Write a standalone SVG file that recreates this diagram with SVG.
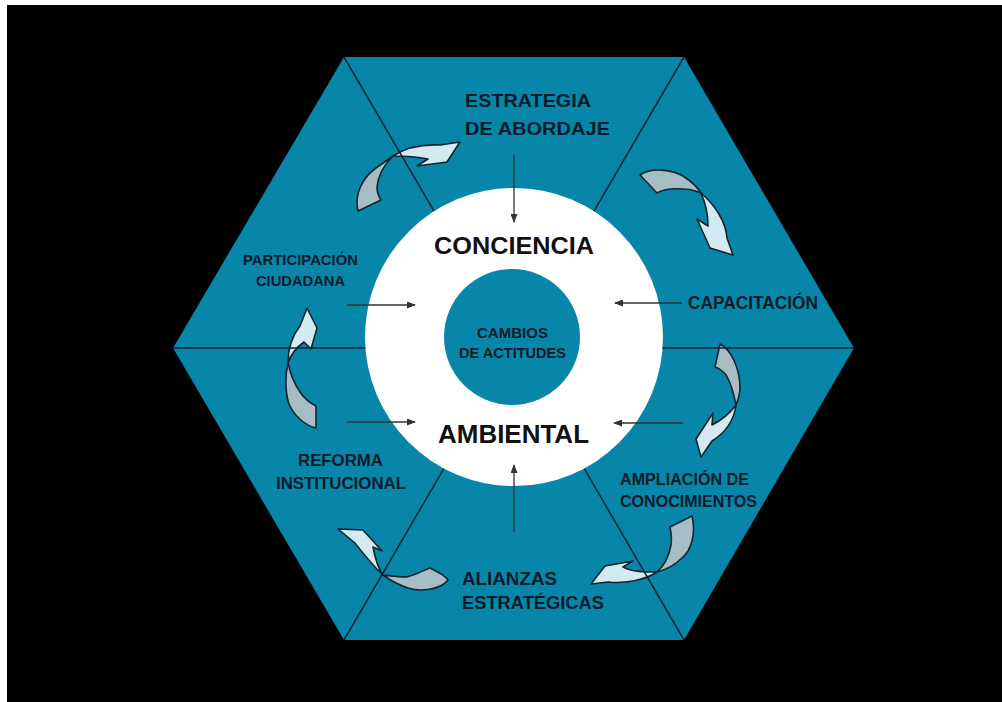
<svg xmlns="http://www.w3.org/2000/svg" width="1002" height="702" viewBox="0 0 1002 702">
<defs>
<style>
.lbl{font-family:"Liberation Sans",Arial,sans-serif;font-weight:bold;fill:#0a1b2a;}
.big{font-family:"Liberation Sans",Arial,sans-serif;font-weight:bold;fill:#111111;}
.div{stroke:#0b2533;stroke-width:1.5;fill:none;}
.tail{fill:#a6bdc5;stroke:#13232b;stroke-width:1.6;stroke-linejoin:round;}
.head{fill:#d3eaf0;stroke:#13232b;stroke-width:1.6;stroke-linejoin:round;}
.con{stroke:#333333;stroke-width:1.3;fill:none;marker-end:url(#ah);}
</style>
<marker id="ah" markerWidth="9" markerHeight="7" refX="8" refY="3.5" orient="auto" markerUnits="userSpaceOnUse">
<path d="M0,0 L9,3.5 L0,7 Z" fill="#333333"/>
</marker>
</defs>
<rect x="0" y="0" width="1002" height="702" fill="#ffffff"/>
<rect x="7" y="5" width="995" height="697" fill="#000000"/>

<g id="hexagon">
<polygon points="173,348 344,57 684,57 854,348 684,640 344,640" fill="#0886a9"/>
</g>

<g id="cycle-arrows">
<g id="arrow-top-left">
<path class="tail" d="M358,211 C354,195 362,178 376,168 L393,156 C384,165 378,176 377,187 C377,193 379,197 381,200 Z"/>
<path class="head" d="M393,156 C405,148 420,144 440,145 L460,142 L447,162 L417,166 L428,159 C418,157 405,156 393,156 Z"/>
</g>
<g id="arrow-top-right">
<path class="tail" d="M640,175 C650,168 672,168 686,178 C693,183 698,188 701,193 C696,191 690,189 684,189 C672,188 662,190 657,193 Z"/>
<path class="head" d="M701,193 C715,205 726,222 727,238 L733,255 L710,248 L697,219 L708,226 C708,215 706,204 701,193 Z"/>
</g>
<g id="arrow-right">
<path class="tail" d="M720,344 C732,350 740,370 740,388 C740,395 738,400 736,405 C734,395 731,383 726,375 C722,370 718,368 715,367 Z"/>
<path class="head" d="M736,405 C734,420 725,433 712,441 L701,457 L696,439 L713,413 L712,425 C722,420 730,413 736,405 Z"/>
</g>
<g id="arrow-bottom-right">
<path class="tail" d="M692,516 C696,532 692,550 682,558 C675,565 665,570 657,572 C664,566 669,556 671,545 C672,538 671,532 670,527 Z"/>
<path class="head" d="M657,572 C645,580 625,584 608,582 L591,584 L605,566 L633,561 L623,567 C632,572 645,572 657,572 Z"/>
</g>
<g id="arrow-bottom-left">
<path class="tail" d="M430,568 C438,572 446,576 448,580 C440,590 420,592 408,588 C398,585 390,580 383,575 C392,576 400,577 407,577 C415,575 422,571 430,568 Z"/>
<path class="head" d="M383,575 C372,565 362,552 355,543 L338,529 L363,530 L382,551 L373,547 C375,558 378,568 383,575 Z"/>
</g>
<g id="arrow-left">
<path class="tail" d="M316,406 L316,428 C306,426 294,416 289,404 C285,392 285,375 288,363 C290,372 293,382 300,392 C304,398 310,403 316,406 Z"/>
<path class="head" d="M288,363 C288,348 292,336 300,326 L307,308 L317,328 L311,349 L304,342 C297,347 291,354 288,363 Z"/>
</g>
</g>

<g id="dividers">
<line class="div" x1="344" y1="57" x2="514" y2="348"/>
<line class="div" x1="684" y1="57" x2="514" y2="348"/>
<line class="div" x1="173" y1="348" x2="514" y2="348"/>
<line class="div" x1="854" y1="348" x2="514" y2="348"/>
<line class="div" x1="344" y1="640" x2="514" y2="348"/>
<line class="div" x1="684" y1="640" x2="514" y2="348"/>
</g>

<g id="conciencia-ambiental">
<circle cx="514" cy="337" r="149" fill="#ffffff"/>
<text class="big" x="434" y="254" font-size="24.5" textLength="160" lengthAdjust="spacingAndGlyphs">CONCIENCIA</text>
<text class="big" x="438" y="443" font-size="25.5" textLength="151" lengthAdjust="spacingAndGlyphs">AMBIENTAL</text>
</g>

<g id="cambios-actitudes">
<circle cx="512" cy="337" r="68" fill="#0886a9"/>
<text class="lbl" x="477" y="338" font-size="15" textLength="71" lengthAdjust="spacingAndGlyphs">CAMBIOS</text>
<text class="lbl" x="459" y="358" font-size="15" textLength="107" lengthAdjust="spacingAndGlyphs">DE ACTITUDES</text>
</g>

<g id="estrategia-abordaje">
<text class="lbl" x="465" y="107" font-size="18" textLength="126" lengthAdjust="spacingAndGlyphs">ESTRATEGIA</text>
<text class="lbl" x="465" y="135" font-size="18" textLength="145" lengthAdjust="spacingAndGlyphs">DE ABORDAJE</text>
</g>
<g id="capacitacion">
<text class="lbl" x="688" y="309" font-size="18.5" textLength="130" lengthAdjust="spacingAndGlyphs">CAPACITACIÓN</text>
</g>
<g id="ampliacion-conocimientos">
<text class="lbl" x="620" y="485" font-size="16.5" textLength="129" lengthAdjust="spacingAndGlyphs">AMPLIACIÓN DE</text>
<text class="lbl" x="620" y="507" font-size="16.5" textLength="137" lengthAdjust="spacingAndGlyphs">CONOCIMIENTOS</text>
</g>
<g id="alianzas-estrategicas">
<text class="lbl" x="462" y="585" font-size="18.5" textLength="95" lengthAdjust="spacingAndGlyphs">ALIANZAS</text>
<text class="lbl" x="462" y="609" font-size="18.5" textLength="142" lengthAdjust="spacingAndGlyphs">ESTRATÉGICAS</text>
</g>
<g id="reforma-institucional">
<text class="lbl" x="298" y="466" font-size="16.5" textLength="85" lengthAdjust="spacingAndGlyphs">REFORMA</text>
<text class="lbl" x="276" y="489" font-size="16.5" textLength="130" lengthAdjust="spacingAndGlyphs">INSTITUCIONAL</text>
</g>
<g id="participacion-ciudadana">
<text class="lbl" x="243" y="265" font-size="15.5" textLength="115" lengthAdjust="spacingAndGlyphs">PARTICIPACIÓN</text>
<text class="lbl" x="256" y="286" font-size="15.5" textLength="89" lengthAdjust="spacingAndGlyphs">CIUDADANA</text>
</g>

<g id="connectors">
<line class="con" x1="514" y1="155" x2="514" y2="222"/>
<line class="con" x1="682" y1="303" x2="615" y2="303"/>
<line class="con" x1="683" y1="423" x2="614" y2="423"/>
<line class="con" x1="514" y1="532" x2="514" y2="465"/>
<line class="con" x1="347" y1="305" x2="415" y2="305"/>
<line class="con" x1="347" y1="422" x2="415" y2="422"/>
</g>
</svg>
